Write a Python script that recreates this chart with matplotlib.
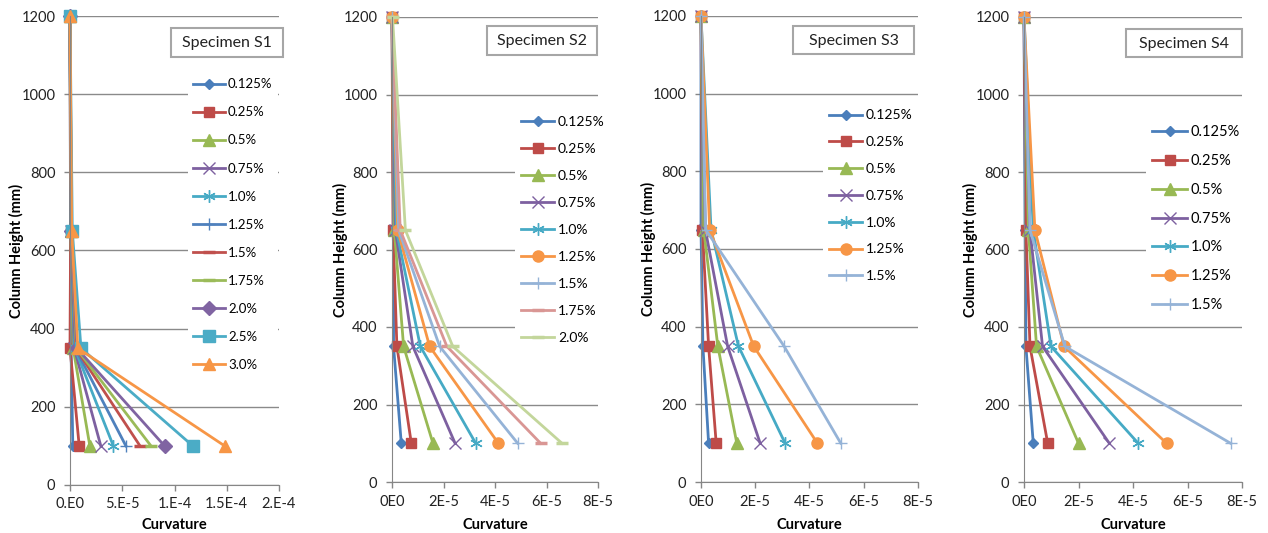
import matplotlib
matplotlib.use('Agg')
import matplotlib.pyplot as plt
from matplotlib.patches import Rectangle

plt.rcParams['font.family'] = ['Lato', 'DejaVu Sans']

# column heights of the measuring sections (mm)
heights = [100, 350, 650, 1200]

# S1 curvature at each height
s1_labels = ['0.125%', '0.25%', '0.5%', '0.75%', '1.0%', '1.25%', '1.5%', '1.75%', '2.0%', '2.5%', '3.0%']
s1_values = [
    [2.7e-6, 1.0e-6, 0.5e-6, 0.0],
    [8.8e-6, 0.0, 0.6e-6, 0.0],
    [1.9e-5, 3.0e-6, 0.8e-6, 0.0],
    [2.95e-5, 4.0e-6, 0.9e-6, 0.0],
    [4.15e-5, 4.5e-6, 1.0e-6, 0.0],
    [5.35e-5, 5.0e-6, 1.1e-6, 0.0],
    [6.7e-5, 5.5e-6, 1.2e-6, 0.0],
    [7.75e-5, 6.0e-6, 1.3e-6, 0.0],
    [9.05e-5, 6.5e-6, 1.4e-6, 0.0],
    [1.175e-4, 1.05e-5, 2.2e-6, 0.0],
    [1.48e-4, 7.5e-6, 1.6e-6, 0.0],
]

# S2
s2_labels = ['0.125%', '0.25%', '0.5%', '0.75%', '1.0%', '1.25%', '1.5%', '1.75%', '2.0%']
s2_values = [
    [3.6e-6, 0.6e-6, 0.6e-6, 0.0],
    [7.5e-6, 1.9e-6, 0.4e-6, 0.0],
    [1.59e-5, 4.5e-6, 0.9e-6, 0.0],
    [2.45e-5, 8.1e-6, 1.3e-6, 0.0],
    [3.25e-5, 1.1e-5, 1.7e-6, 0.0],
    [4.13e-5, 1.46e-5, 2.2e-6, 0.0],
    [4.88e-5, 1.85e-5, 2.6e-6, 0.0],
    [5.77e-5, 2.13e-5, 3.2e-6, 0.0],
    [6.6e-5, 2.36e-5, 5.2e-6, 0.2e-6],
]

# S3
s3_labels = ['0.125%', '0.25%', '0.5%', '0.75%', '1.0%', '1.25%', '1.5%']
s3_values = [
    [2.8e-6, 0.7e-6, 0.0, 0.0],
    [5.6e-6, 2.8e-6, 0.5e-6, 0.0],
    [1.32e-5, 6.2e-6, 1.0e-6, 0.0],
    [2.18e-5, 9.8e-6, 1.6e-6, 0.0],
    [3.1e-5, 1.38e-5, 3.7e-6, 0.0],
    [4.29e-5, 1.94e-5, 3.2e-6, 0.0],
    [5.15e-5, 3.06e-5, 1.7e-6, 0.0],
]

# S4
s4_labels = ['0.125%', '0.25%', '0.5%', '0.75%', '1.0%', '1.25%', '1.5%']
s4_values = [
    [3.4e-6, 0.7e-6, 0.4e-6, 0.0],
    [8.7e-6, 2.2e-6, 0.7e-6, 0.0],
    [2.0e-5, 4.6e-6, 1.6e-6, 0.0],
    [3.13e-5, 6.8e-6, 2.2e-6, 0.0],
    [4.19e-5, 9.9e-6, 3.4e-6, 0.0],
    [5.23e-5, 1.47e-5, 4.0e-6, 0.0],
    [7.58e-5, 1.5e-5, 2.2e-6, 0.0],
]

s1_ticks = [0, 5e-5, 1e-4, 1.5e-4, 2e-4]
s1_ticklabels = ['0.E0', '5.E-5', '1.E-4', '1.5E-4', '2.E-4']
s2_ticks = [0, 2e-5, 4e-5, 6e-5, 8e-5]
s2_ticklabels = ['0E0', '2E-5', '4E-5', '6E-5', '8E-5']
y_ticks = [0, 200, 400, 600, 800, 1000, 1200]

# excel-like styles: (color, marker, markersize, markeredgewidth)
BLUE = ('#4A7EBB', 'D', 5, 1)
RED = ('#BE4B48', 's', 7, 1)
GREEN = ('#98B954', '^', 8, 1)
PURPLE_X = ('#7D60A0', 'x', 8, 1)
AQUA_STAR = ('#46AAC5', (6, 2, 0), 9, 1)
BLUE_PLUS = ('#4F81BD', '+', 9, 1)
RED_DASH = ('#C0504D', '_', 9, 2.5)
GREEN_DASH = ('#9BBB59', '_', 9, 2.5)
PURPLE_D = ('#8064A2', 'D', 7, 1)
AQUA_SQ = ('#4BACC6', 's', 9, 1)
ORANGE_TRI = ('#F79646', '^', 9, 1)
ORANGE_O = ('#F79646', 'o', 8, 1)
LBLUE_PLUS = ('#95B3D7', '+', 9, 1)
PINK_DASH = ('#D99694', '_', 9, 2.5)
LGREEN_DASH = ('#C3D69B', '_', 9, 2.5)

s1_styles = [BLUE, RED, GREEN, PURPLE_X, AQUA_STAR, BLUE_PLUS, RED_DASH, GREEN_DASH, PURPLE_D, AQUA_SQ, ORANGE_TRI]
s2_styles = [BLUE, RED, GREEN, PURPLE_X, AQUA_STAR, ORANGE_O, LBLUE_PLUS, PINK_DASH, LGREEN_DASH]
s3_styles = [BLUE, RED, GREEN, PURPLE_X, AQUA_STAR, ORANGE_O, LBLUE_PLUS]
s4_styles = s3_styles

W, H = 1268, 533
fig = plt.figure(figsize=(W / 100, H / 100), dpi=100)


def fx(x):
    return x / W


def fy(y):
    return 1 - y / H


panels = [
    # values, labels, styles, ticks, ticklabels, axes box px, legend (x, first y, spacing, fs), title box, title, ylabel x
    (s1_values, s1_labels, s1_styles, s1_ticks, s1_ticklabels, (70, 279, 16, 485),
     (193, 84.6, 28.6, 9.5), (171, 283, 28, 57), 'Specimen S1', 16),
    (s2_values, s2_labels, s2_styles, s2_ticks, s2_ticklabels, (392, 598, 17, 482),
     (521, 122.9, 28.2, 10), (487, 597, 26, 55), 'Specimen S2', 340),
    (s3_values, s3_labels, s3_styles, s2_ticks, s2_ticklabels, (701, 918, 16, 482),
     (829, 116, 28, 10), (793, 914, 26, 54), 'Specimen S3', 648),
    (s4_values, s4_labels, s4_styles, s2_ticks, s2_ticklabels, (1024, 1242, 17, 482),
     (1152, 132, 28.7, 10.5), (1126, 1242, 29, 57), 'Specimen S4', 970),
]

for values, labels, styles, ticks, ticklabels, box, leg, tbox, title, ylab_x in panels:
    x0, x1, y0, y1 = box
    ax = fig.add_axes([fx(x0), fy(y1), (x1 - x0) / W, (y1 - y0) / H])
    for vals, lab, (c, m, ms, mew) in zip(values, labels, styles):
        ax.plot(vals, heights, color=c, lw=2, marker=m, ms=ms, mew=mew,
                mec=c, mfc=c, label=lab, clip_on=False)
    ax.set_xlim(ticks[0], ticks[-1])
    ax.set_ylim(0, 1200)
    ax.set_xticks(ticks, ticklabels)
    ax.set_yticks(y_ticks)
    ax.yaxis.grid(True, color='#8A8A8A', lw=1)
    ax.set_axisbelow(True)
    for s in ['top', 'right']:
        ax.spines[s].set_visible(False)
    for s in ['left', 'bottom']:
        ax.spines[s].set_color('#868686')
    ax.tick_params(axis='both', direction='out', length=4, width=1, color='#868686',
                   labelsize=10.5, labelcolor='#222222')
    ax.tick_params(axis='x', pad=5)
    ax.tick_params(axis='y', pad=6.5)

    # legend
    lx, ly, sp, fs = leg
    fs_px = fs * 100 / 72
    bp = 0.4
    row_h = 0.95 * fs_px
    lsp = (sp - row_h) / fs_px
    ax.legend(loc='upper left', bbox_to_anchor=(fx(lx - bp * fs_px), fy(ly - row_h / 2 - bp * fs_px)),
              bbox_transform=fig.transFigure, frameon=True, fancybox=False, facecolor='white',
              edgecolor='none', framealpha=1, borderpad=bp, borderaxespad=0, handlelength=2.4,
              handletextpad=0.25, labelspacing=lsp, fontsize=fs)

    # title box
    tx0, tx1, ty0, ty1 = tbox
    fig.patches.append(Rectangle((fx(tx0), fy(ty1)), (tx1 - tx0) / W, (ty1 - ty0) / H,
                                 transform=fig.transFigure, facecolor='white',
                                 edgecolor='#A6A6A6', lw=1.5, zorder=5))
    fig.text(fx((tx0 + tx1) / 2), fy((ty0 + ty1) / 2 + 1), title, ha='center', va='center',
             fontsize=11.5, color='#222222', zorder=6)

    # axis titles
    fig.text(fx(ylab_x), fy((y0 + y1) / 2), 'Column Height (mm)', rotation=90, ha='center',
             va='center', fontsize=10.5, fontweight='bold')
    fig.text(fx((x0 + x1) / 2), fy(532), 'Curvature', ha='center', va='bottom',
             fontsize=10.5, fontweight='bold')

fig.savefig('out.png', dpi=100)
